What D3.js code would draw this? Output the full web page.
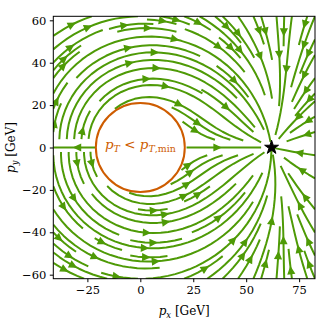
<!DOCTYPE html>
<html><head><meta charset="utf-8">
<script src="https://cdn.jsdelivr.net/npm/d3@7"></script>
<style>body{margin:0;background:#fff}</style>
</head><body>
<script>
// ---- data ----
const xDomain = [-41.1, 82.5];
const yDomain = [-61.9, 61.9];
const xTicks = [-25, 0, 25, 50, 75];
const yTicks = [-60, -40, -20, 0, 20, 40, 60];
const starPoint = [62, 0];      // target momentum (GeV)
const pTmin = [21];             // excluded radius (GeV)
const gridSize = [100, 100];    // vector-field grid
const maskSize = [35, 35];      // streamline density cells

const W = 332, H = 332;
const green = "#4e9a06", orange = "#ce5c00";
const FONT = "DejaVu Serif";

const svg = d3.select("body").append("svg").attr("width", W).attr("height", H);
const x = d3.scaleLinear().domain(xDomain).range([53.3, 315]);
const y = d3.scaleLinear().domain(yDomain).range([278.7, 16.3]);

// ---- vector field on grid: descent of ((pT-pT*)/pT*)^2 + dphi^2 ----
const NX = gridSize[0], NY = gridSize[1];
const dxg = (xDomain[1] - xDomain[0]) / (NX - 1), dyg = (yDomain[1] - yDomain[0]) / (NY - 1);
const U = new Float64Array(NX * NY), V = new Float64Array(NX * NY), S = new Float64Array(NX * NY), MK = new Uint8Array(NX * NY);
const rStar = Math.hypot(starPoint[0], starPoint[1]), phiStar = Math.atan2(starPoint[1], starPoint[0]);
for (let j = 0; j < NY; j++) for (let i = 0; i < NX; i++) {
  const xd = xDomain[0] + i * dxg, yd = yDomain[0] + j * dyg;
  const k = j * NX + i;
  const r = Math.hypot(xd, yd), ph = Math.atan2(yd, xd);
  if (r < pTmin[0]) { MK[k] = 1; continue; }
  const dph = ph - phiStar;
  const rad = -(r - rStar) / (rStar * rStar), tan = -dph / r;
  const c = Math.cos(ph), s = Math.sin(ph);
  const u = rad * c - tan * s, v = rad * s + tan * c;
  U[k] = u / dxg; V[k] = v / dyg;
  S[k] = Math.hypot(U[k] / (NX - 1), V[k] / (NY - 1));
}
function interp(a, xi, yi) {
  const xI = Math.floor(xi), yI = Math.floor(yi);
  const xn = xI === NX - 1 ? xI : xI + 1, yn = yI === NY - 1 ? yI : yI + 1;
  const i00 = yI * NX + xI, i01 = yI * NX + xn, i10 = yn * NX + xI, i11 = yn * NX + xn;
  if (MK[i00] || MK[i01] || MK[i10] || MK[i11]) return NaN;
  const xt = xi - xI, yt = yi - yI;
  const a0 = a[i00] * (1 - xt) + a[i01] * xt, a1 = a[i10] * (1 - xt) + a[i11] * xt;
  return a0 * (1 - yt) + a1 * yt;
}
const within = (xi, yi) => xi >= 0 && xi <= NX - 1 && yi >= 0 && yi <= NY - 1;
function forward(xi, yi) {
  if (!within(xi, yi)) throw "OOB";
  const sp = interp(S, xi, yi);
  if (isNaN(sp) || sp === 0) throw "TERM";
  const ui = interp(U, xi, yi), vi = interp(V, xi, yi);
  return [ui / sp, vi / sp];
}
function backward(xi, yi) { const d = forward(xi, yi); return [-d[0], -d[1]]; }

// ---- mask ----
const MNX = maskSize[0], MNY = maskSize[1];
const mask = new Uint8Array(MNX * MNY);
const g2mx = (MNX - 1) / (NX - 1), g2my = (MNY - 1) / (NY - 1);
let curXY = null, trajCells = [];
function grid2mask(xg, yg) { return [Math.floor(xg * g2mx + 0.5), Math.floor(yg * g2my + 0.5)]; }
function updMask(xm, ym) {
  if (!curXY || curXY[0] !== xm || curXY[1] !== ym) {
    if (mask[ym * MNX + xm] === 0) { trajCells.push(ym * MNX + xm); mask[ym * MNX + xm] = 1; curXY = [xm, ym]; }
    else throw "INVALID";
  }
}
function updateTrajectory(xg, yg) {
  if (!within(xg, yg)) throw "INVALID";
  const m = grid2mask(xg, yg); updMask(m[0], m[1]);
}
function eulerStep(traj, f) {
  const [xi, yi] = traj[traj.length - 1];
  let c; try { c = f(xi, yi); } catch (e) { return 0; }
  const [cx, cy] = c;
  const dsx = cx === 0 ? Infinity : (cx < 0 ? xi / -cx : (NX - 1 - xi) / cx);
  const dsy = cy === 0 ? Infinity : (cy < 0 ? yi / -cy : (NY - 1 - yi) / cy);
  const ds = Math.min(dsx, dsy);
  traj.push([xi + cx * ds, yi + cy * ds]);
  return ds;
}
const maxlength = 4.0, minlength = 0.1;
function rk12(x0, y0, f) {
  const maxerror = 0.003, maxds = Math.min(1 / MNX, 1 / MNY, 0.1);
  let ds = maxds, stotal = 0, xi = x0, yi = y0; const traj = [];
  while (true) {
    let k1, k2;
    try {
      if (within(xi, yi)) traj.push([xi, yi]); else throw "OOB";
      k1 = f(xi, yi);
      k2 = f(xi + ds * k1[0], yi + ds * k1[1]);
    } catch (e) {
      if (e === "OOB") { if (traj.length) stotal += eulerStep(traj, f); break; }
      if (e === "TERM") break;
      throw e;
    }
    const dx1 = ds * k1[0], dy1 = ds * k1[1];
    const dx2 = ds * 0.5 * (k1[0] + k2[0]), dy2 = ds * 0.5 * (k1[1] + k2[1]);
    const error = Math.hypot((dx2 - dx1) / (NX - 1), (dy2 - dy1) / (NY - 1));
    if (error < maxerror) {
      xi += dx2; yi += dy2;
      try { updateTrajectory(xi, yi); } catch (e) { if (e === "INVALID") break; throw e; }
      if (stotal + ds > maxlength) break;
      stotal += ds;
    }
    ds = error === 0 ? maxds : Math.min(maxds, 0.85 * ds * Math.sqrt(maxerror / error));
  }
  return [stotal, traj];
}
function integrate(x0, y0) {
  trajCells = [];
  try { const m = grid2mask(x0, y0); updMask(m[0], m[1]); } catch (e) { return null; }
  let stotal = 0, xy = [];
  let [s, t] = rk12(x0, y0, backward); stotal += s; xy = t.reverse();
  curXY = grid2mask(x0, y0);
  [s, t] = rk12(x0, y0, forward); stotal += s; xy = xy.concat(t.slice(1));
  if (stotal > minlength) return xy;
  trajCells.forEach(k => mask[k] = 0);
  return null;
}
function* startPoints(nx, ny) {
  let xfirst = 0, yfirst = 1, xlast = nx - 1, ylast = ny - 1, xx = 0, yy = 0, dir = "right";
  for (let i = 0; i < nx * ny; i++) {
    yield [xx, yy];
    if (dir === "right") { xx++; if (xx >= xlast) { xlast--; dir = "up"; } }
    else if (dir === "up") { yy++; if (yy >= ylast) { ylast--; dir = "left"; } }
    else if (dir === "left") { xx--; if (xx <= xfirst) { xfirst++; dir = "down"; } }
    else { yy--; if (yy <= yfirst) { yfirst++; dir = "right"; } }
  }
}
const trajectories = [];
for (const [xm, ym] of startPoints(MNX, MNY)) {
  if (mask[ym * MNX + xm] === 0) {
    const t = integrate(xm / g2mx, ym / g2my);
    if (t) trajectories.push(t.map(p => [xDomain[0] + p[0] * dxg, yDomain[0] + p[1] * dyg]));
  }
}

// ---- drawing ----
svg.append("clipPath").attr("id", "clip").append("rect")
  .attr("x", x(xDomain[0])).attr("y", y(yDomain[1]))
  .attr("width", x(xDomain[1]) - x(xDomain[0])).attr("height", y(yDomain[0]) - y(yDomain[1]));
const gPlot = svg.append("g").attr("clip-path", "url(#clip)");
const line = d3.line().x(d => x(d[0])).y(d => y(d[1]));
gPlot.selectAll("path.sl").data(trajectories).join("path").attr("class", "sl")
  .attr("d", line).attr("fill", "none").attr("stroke", green).attr("stroke-width", 2)
  .attr("stroke-linecap", "butt").attr("stroke-linejoin", "round");
trajectories.forEach(t => {
  const cum = []; let acc = 0;
  for (let i = 1; i < t.length; i++) { acc += Math.hypot(t[i][0] - t[i - 1][0], t[i][1] - t[i - 1][1]); cum.push(acc); }
  const n = d3.bisectLeft(cum, acc / 2);
  if (n + 1 >= t.length) return;
  const tail = t[n], head = [(t[n][0] + t[n + 1][0]) / 2, (t[n][1] + t[n + 1][1]) / 2];
  const hx = x(head[0]), hy = y(head[1]), tx = x(tail[0]), ty = y(tail[1]);
  const ang = Math.atan2(hy - ty, hx - tx);
  const L = 6, Wd = 2.9;
  const bx = hx - L * Math.cos(ang), by = hy - L * Math.sin(ang);
  const px = -Math.sin(ang) * Wd, py = Math.cos(ang) * Wd;
  gPlot.append("path").attr("d", `M${hx},${hy}L${bx + px},${by + py}L${bx - px},${by - py}Z`)
    .attr("fill", green).attr("stroke", green).attr("stroke-width", 1.5).attr("stroke-linejoin", "miter");
});

svg.append("circle").attr("cx", x(0)).attr("cy", y(0)).attr("r", x(pTmin[0]) - x(0))
  .attr("fill", "white").attr("stroke", orange).attr("stroke-width", 2);
const R = 7.3, ri = R * 0.381966;
const starPts = d3.range(10).map(i => { const a = -Math.PI / 2 + i * Math.PI / 5, rr = i % 2 ? ri : R; return [x(starPoint[0]) + rr * Math.cos(a), y(starPoint[1]) + rr * Math.sin(a)]; });
svg.append("path").attr("d", "M" + starPts.join("L") + "Z").attr("fill", "black").attr("stroke", "black").attr("stroke-width", 1);

function mathText(sel, parts, size) {
  parts.forEach(p => {
    const ts = sel.append("tspan").text(p.t);
    if (p.i) ts.attr("font-style", "italic");
    if (p.sub) ts.attr("font-size", size * 0.7).attr("dy", size * 0.22);
    if (p.up) ts.attr("dy", -size * 0.22);
  });
}
const lab = svg.append("text").attr("x", x(0)).attr("y", y(0) + 1.5).attr("text-anchor", "middle")
  .attr("font-family", FONT).attr("font-size", 13.5).attr("fill", orange);
mathText(lab, [{ t: "p", i: 1 }, { t: "T", i: 1, sub: 1 }, { t: " < ", up: 1 }, { t: "p", i: 1 }, { t: "T", i: 1, sub: 1 }, { t: ",min" }], 13.5);
lab.selectAll("tspan").filter((d, i) => i === 5).attr("font-size", 13.5 * 0.7);

const gx = svg.append("g").attr("transform", `translate(0,${y(yDomain[0])})`)
  .call(d3.axisBottom(x).tickValues(xTicks).tickSize(3.5).tickPadding(3.5));
const gy = svg.append("g").attr("transform", `translate(${x(xDomain[0])},0)`)
  .call(d3.axisLeft(y).tickValues(yTicks).tickSize(3.5).tickPadding(3.5));
[gx, gy].forEach(g => {
  g.select(".domain").remove();
  g.selectAll("text").attr("font-family", FONT).attr("font-size", 11.5).attr("fill", "#000");
  g.selectAll("line").attr("stroke", "#000").attr("stroke-width", 1);
});
svg.append("rect").attr("x", x(xDomain[0])).attr("y", y(yDomain[1]))
  .attr("width", x(xDomain[1]) - x(xDomain[0])).attr("height", y(yDomain[0]) - y(yDomain[1]))
  .attr("fill", "none").attr("stroke", "#000").attr("stroke-width", 1);

const xl = svg.append("text").attr("x", (x(xDomain[0]) + x(xDomain[1])) / 2).attr("y", 315)
  .attr("text-anchor", "middle").attr("font-family", FONT).attr("font-size", 12);
mathText(xl, [{ t: "p", i: 1 }, { t: "x", i: 1, sub: 1 }, { t: " [GeV]", up: 1 }], 12);
const yl = svg.append("text").attr("transform", `translate(15,${(y(yDomain[0]) + y(yDomain[1])) / 2}) rotate(-90)`)
  .attr("text-anchor", "middle").attr("font-family", FONT).attr("font-size", 12);
mathText(yl, [{ t: "p", i: 1 }, { t: "y", i: 1, sub: 1 }, { t: " [GeV]", up: 1 }], 12);
</script>
</body></html>
